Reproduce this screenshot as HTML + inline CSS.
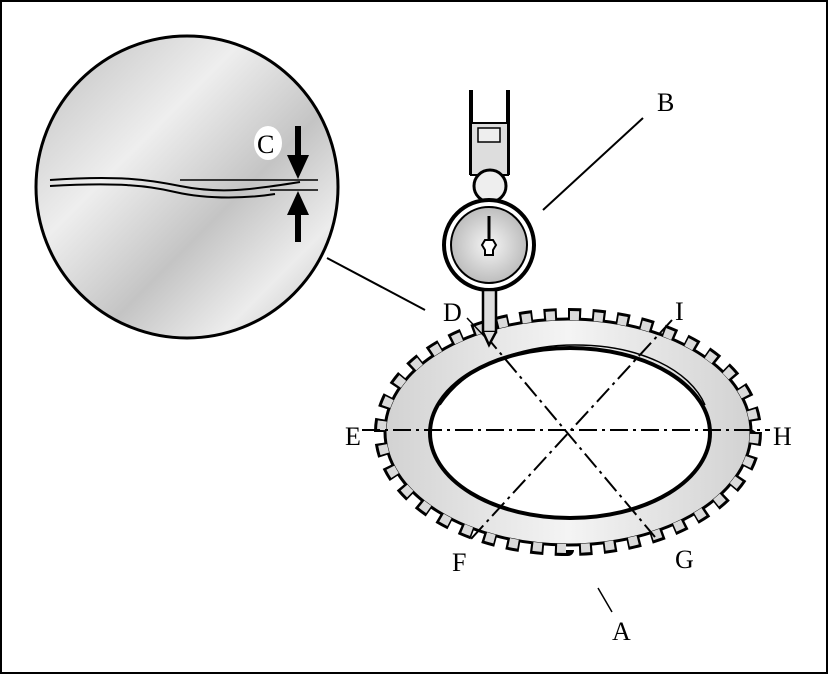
<!DOCTYPE html>
<html><head><style>
html,body{margin:0;padding:0;background:#fff}
svg{display:block}
text{font-family:"Liberation Serif",serif;font-size:26px;fill:#000}
</style></head><body>
<svg width="828" height="674" viewBox="0 0 828 674" xmlns="http://www.w3.org/2000/svg">
<defs>
<linearGradient id="g1" x1="0" y1="0" x2="1" y2="1">
<stop offset="0" stop-color="#bdbdbd"/><stop offset="0.35" stop-color="#eeeeee"/><stop offset="0.6" stop-color="#c4c4c4"/><stop offset="0.8" stop-color="#ececec"/><stop offset="1" stop-color="#bbbbbb"/>
</linearGradient>
<linearGradient id="g2" x1="0" y1="0" x2="1" y2="0">
<stop offset="0" stop-color="#d2d2d2"/><stop offset="0.5" stop-color="#f4f4f4"/><stop offset="1" stop-color="#d2d2d2"/>
</linearGradient>
<radialGradient id="g3" cx="0.5" cy="0.5" r="0.5"><stop offset="0" stop-color="#f5f5f5"/><stop offset="1" stop-color="#bdbdbd"/></radialGradient>
</defs>
<rect x="1" y="1" width="826" height="672" fill="#fff" stroke="#000" stroke-width="2"/>
<circle cx="187" cy="187" r="151" fill="url(#g1)" stroke="#000" stroke-width="3"/>
<path d="M50 180 C120 175 150 180 180 186 C220 194 250 190 300 182" fill="none" stroke="#000" stroke-width="2"/>
<path d="M50 186 C120 182 150 186 175 192 C210 200 250 198 275 194" fill="none" stroke="#000" stroke-width="2"/>
<line x1="180" y1="180" x2="318" y2="180" stroke="#000" stroke-width="1.5"/>
<line x1="270" y1="190" x2="318" y2="190" stroke="#000" stroke-width="1.5"/>
<rect x="295" y="126" width="6" height="30" fill="#000"/><polygon points="287,155 309,155 298,179" fill="#000"/>
<rect x="295" y="212" width="6" height="30" fill="#000"/><polygon points="287,215 309,215 298,191" fill="#000"/>
<ellipse cx="268" cy="143" rx="14" ry="17" fill="#fff"/>
<text x="257" y="153">C</text>
<line x1="327" y1="258" x2="425" y2="310" stroke="#000" stroke-width="2"/>
<!-- ring -->
<ellipse cx="568" cy="432" rx="188" ry="118" pathLength="960" fill="none" stroke="#000" stroke-width="12" stroke-dasharray="13 11"/>
<ellipse cx="568" cy="432" rx="183" ry="113" fill="url(#g2)" stroke="#000" stroke-width="3"/>
<ellipse cx="568" cy="432" rx="186.5" ry="116.5" pathLength="960" fill="none" stroke="#dadada" stroke-width="9" stroke-dasharray="9 15" stroke-dashoffset="-2"/>
<ellipse cx="570" cy="433" rx="140" ry="85" fill="#fff" stroke="#000" stroke-width="4"/>
<path d="M440 405 C470 360 530 345 575 345 C640 345 690 370 705 405" fill="none" stroke="#000" stroke-width="1.5"/>
<g stroke="#000" stroke-width="2" stroke-dasharray="18 5 3 5" fill="none">
<line x1="362" y1="430" x2="770" y2="430"/>
<line x1="485" y1="335" x2="655" y2="537"/>
<line x1="672" y1="320" x2="470" y2="540"/>
</g>
<line x1="598" y1="588" x2="612" y2="612" stroke="#000" stroke-width="1.5"/>
<!-- dial indicator -->
<line x1="471" y1="90" x2="471" y2="175" stroke="#000" stroke-width="4"/>
<line x1="508" y1="90" x2="508" y2="175" stroke="#000" stroke-width="4"/>
<rect x="471" y="123" width="37" height="52" fill="#ddd" stroke="#000" stroke-width="2"/>
<rect x="478" y="128" width="22" height="14" fill="#eee" stroke="#000" stroke-width="1.5"/>
<circle cx="490" cy="186" r="16" fill="#eee" stroke="#000" stroke-width="3"/>
<circle cx="489" cy="245" r="45" fill="#fff" stroke="#000" stroke-width="4"/>
<circle cx="489" cy="245" r="38" fill="url(#g3)" stroke="#000" stroke-width="2"/>
<line x1="489" y1="216" x2="489" y2="240" stroke="#000" stroke-width="3"/>
<path d="M485 240 h8 l3 5 l-3 5 v5 h-8 v-5 l-3 -5 z" fill="#fff" stroke="#000" stroke-width="2"/>
<rect x="483" y="290" width="13" height="42" fill="#ddd" stroke="#000" stroke-width="2.5"/>
<path d="M483 332 L489 345 L496 332" fill="#ddd" stroke="#000" stroke-width="2.5"/>
<line x1="543" y1="210" x2="643" y2="118" stroke="#000" stroke-width="2"/>
<line x1="467" y1="318" x2="485" y2="337" stroke="#000" stroke-width="1.5"/>
<text x="657" y="111">B</text>
<text x="443" y="321">D</text>
<text x="675" y="320">I</text>
<text x="345" y="445">E</text>
<text x="773" y="445">H</text>
<text x="452" y="571">F</text>
<text x="675" y="568">G</text>
<text x="612" y="640">A</text>
</svg>
</body></html>
